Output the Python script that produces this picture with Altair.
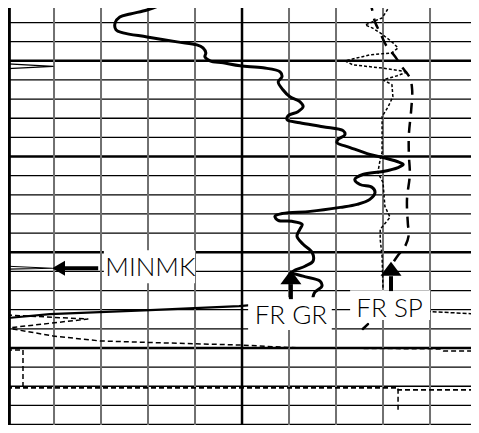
import altair as alt
import pandas as pd

# ---------------- grid (track units 0-100, depth in ft) ----------------
h_thin = [d for d in range(996, 1039, 2) if d % 10 != 0]
h_thick = [1000, 1010, 1020, 1030]
v_gray = [10, 20, 30, 40, 60, 70, 80, 90]
v_mid = [50]

# ---------------- curves ----------------
gr_x = [34.3, 32.6, 29.8, 26.2, 24.0, 23.0, 23.2, 24.7, 29.8, 36.2, 40.4, 41.7, 42.3, 42.1,
        43.2, 46.0, 49.6, 54.5, 58.1, 58.5, 57.7, 58.7, 60.2, 62.3, 63.0, 61.9, 59.8, 59.6,
        62.3, 67.2, 71.5, 71.9, 70.4, 70.2, 73.0, 77.2, 80.0, 83.0, 84.3, 83.2, 80.0, 75.7,
        74.0, 75.1, 77.7, 78.3, 77.2, 74.5, 70.9, 64.5, 58.7, 57.0, 57.7, 60.6, 62.8, 62.3,
        61.7, 63.0, 64.9, 65.1, 63.4, 60.6, 63.0, 66.6, 67.0, 65.5, 65.1]
gr_d = [993.65, 994.17, 994.69, 995.10, 995.42, 996.04, 996.77, 997.08, 997.5, 998.02, 998.33,
        998.65, 999.17, 999.58, 1000.0, 1000.21, 1000.52, 1000.73, 1001.15, 1001.67, 1002.19,
        1003.02, 1003.75, 1004.27, 1004.79, 1005.31, 1005.73, 1006.15, 1006.46, 1006.88,
        1007.29, 1007.71, 1008.23, 1008.54, 1009.06, 1009.79, 1010.10, 1010.52, 1010.83,
        1011.15, 1011.56, 1011.88, 1012.40, 1012.92, 1013.23, 1013.75, 1014.48, 1015.0,
        1015.31, 1015.73, 1015.94, 1016.25, 1016.67, 1016.77, 1017.08, 1017.60, 1018.33,
        1019.17, 1020.0, 1020.94, 1021.46, 1022.08, 1022.5, 1023.02, 1023.54, 1024.17, 1024.69]

sp_x = [81.9, 80.9, 79.8, 77.7, 76.2, 77.7, 79.4, 81.9, 83.2, 81.9, 77.2, 71.9, 73.6, 79.4,
        85.3, 83.0, 80.0, 81.9, 82.1, 81.1, 79.8, 79.8, 79.8, 79.8, 79.4, 78.9, 80.0, 80.4,
        81.5, 79.4, 79.4, 79.8, 80.0]
sp_d = [993.65, 994.69, 995.52, 995.94, 996.25, 996.56, 997.08, 998.02, 998.65, 999.17, 999.38,
        1000.0, 1000.42, 1000.73, 1001.15, 1001.56, 1001.98, 1002.5, 1003.75, 1004.79, 1005.83,
        1007.5, 1008.75, 1009.58, 1010.31, 1011.67, 1012.71, 1015.21, 1016.35, 1017.6, 1018.65,
        1020.42, 1023.85]

ld_x = [77.2, 77.7, 78.3, 79.4, 80.6, 82.6, 84.0, 85.7, 86.2, 86.0, 85.5, 85.5, 85.7, 85.1,
        85.3, 85.5, 84.7, 83.2, 81.9]
ld_d = [993.65, 994.69, 995.94, 997.08, 998.33, 999.58, 1000.63, 1001.77, 1003.02, 1005.10,
        1007.71, 1009.79, 1011.88, 1014.48, 1017.08, 1018.13, 1019.38, 1020.31, 1021.25]

floor_x = [0.0, 9.1, 30.4, 49.4, 57.0]
floor_d = [1026.88, 1026.46, 1026.04, 1025.63, 1025.3]

vd_x = [0.0, 17.2, 0.0, 9.8, 19.8, 34.0, 49.4, 62.3, 92.1, 92.8, 100.4]
vd_d = [1026.56, 1026.98, 1027.92, 1028.75, 1029.27, 1029.48, 1029.69, 1030.0, 1030.1, 1030.31, 1030.31]

spr_x = [88.0, 100.4]
spr_d = [1026.15, 1026.46]

bx1_x = [0.0, 3.4, 3.4]
bx1_d = [1030.21, 1030.21, 1034.17]
bx2_x = [0.0, 83.2, 83.2, 100.4]
bx2_d = [1034.17, 1034.17, 1034.38, 1034.38]
bx3_x = [83.2, 83.2]
bx3_d = [1034.27, 1036.56]

spike_x = [0.0, 9.8, 0.0]
spike_d = [1000.31, 1000.57, 1000.83]
mk_x = [0.0, 9.6, 0.0]
mk_d = [1021.46, 1021.67, 1021.77]
stroke_x = [76.8, 75.7]
stroke_d = [1027.5, 1028.02]

# ---------------- labels & arrows ----------------
labels = ["MINMK", "FR GR", "FR SP"]
label_x = [30.5, 60.4, 81.4]
label_d = [1022.5, 1027.5, 1026.77]
box_x1 = [20.6, 51.3, 73.0]
box_x2 = [40.0, 69.1, 90.0]
box_d1 = [1019.79, 1024.69, 1023.96]
box_d2 = [1023.23, 1028.13, 1027.08]

up_x = [60.4, 81.7]
up_d = [1022.6, 1021.72]
up_shaft_d1 = [1023.33, 1022.5]
up_shaft_d2 = [1024.9, 1024.06]
left_x = [10.96]
left_d = [1021.67]
left_shaft_x1 = [12.3]
left_shaft_x2 = [19.4]

XS = alt.Scale(domain=[0.21, 98.72], nice=False, zero=False)
YS = alt.Scale(domain=[994.48, 1038.05], reverse=True, nice=False, zero=False)


def X(f="x"):
    return alt.X(f"{f}:Q", scale=XS, axis=None)


def Y(f="d"):
    return alt.Y(f"{f}:Q", scale=YS, axis=None)


def hrules(ds, w):
    return alt.Chart(pd.DataFrame({"d": ds})).mark_rule(color="black", strokeWidth=w).encode(y=Y())


def vrules(xs, w, c):
    return alt.Chart(pd.DataFrame({"x": xs})).mark_rule(color=c, strokeWidth=w).encode(x=X())


def curve(xs, ds, **kw):
    df = pd.DataFrame({"x": xs, "d": ds, "i": list(range(len(xs)))})
    base = dict(color="black", strokeJoin="round")
    base.update(kw)
    return alt.Chart(df).mark_line(**base).encode(x=X(), y=Y(), order="i:Q")


layers = [
    hrules(h_thin, 1.3),
    hrules(h_thick, 2.5),
    vrules(v_gray, 2, "#707070"),
    vrules(v_mid, 2.5, "black"),
    alt.Chart(pd.DataFrame({"x": [0.5]})).mark_rule(color="black", strokeWidth=3).encode(x=X()),
    curve(spike_x, spike_d, strokeWidth=1.2),
    curve(mk_x, mk_d, strokeWidth=1.2),
    curve(sp_x, sp_d, strokeWidth=1.5, strokeDash=[3, 2]),
    curve(ld_x, ld_d, strokeWidth=2.5, strokeDash=[11, 8], interpolate="catmull-rom"),
    curve(gr_x, gr_d, strokeWidth=3, strokeCap="round", interpolate="catmull-rom"),
    curve(floor_x, floor_d, strokeWidth=2.2),
    curve(vd_x, vd_d, strokeWidth=1.5, strokeDash=[5, 3]),
    curve(spr_x, spr_d, strokeWidth=1.5, strokeDash=[4, 2]),
    curve(bx1_x, bx1_d, strokeWidth=1.5, strokeDash=[5, 3]),
    curve(bx2_x, bx2_d, strokeWidth=1.6, strokeDash=[5, 3]),
    curve(bx3_x, bx3_d, strokeWidth=1.5, strokeDash=[5, 3]),
]

lab = pd.DataFrame({"t": labels, "x": label_x, "d": label_d,
                    "x1": box_x1, "x2": box_x2, "d1": box_d1, "d2": box_d2})
layers.append(alt.Chart(lab).mark_rect(color="white").encode(
    x=X("x1"), x2="x2:Q", y=Y("d1"), y2="d2:Q"))
layers.append(curve(stroke_x, stroke_d, strokeWidth=2.5, strokeCap="round"))
layers.append(alt.Chart(lab).mark_text(align="center", baseline="alphabetic", fontSize=26,
                                       font="Lato", fontWeight=300, color="black").encode(
    x=X(), y=Y(), text="t:N"))

up = pd.DataFrame({"x": up_x, "d": up_d, "d1": up_shaft_d1, "d2": up_shaft_d2})
layers.append(alt.Chart(up).mark_rule(color="black", strokeWidth=4).encode(
    x=X(), y=Y("d1"), y2="d2:Q"))
layers.append(alt.Chart(up).mark_point(shape="M0,-0.67L1,0.67L-1,0.67Z", filled=True, size=441,
                                       color="black", opacity=1, strokeWidth=0).encode(x=X(), y=Y()))
lf = pd.DataFrame({"x": left_x, "d": left_d, "x1": left_shaft_x1, "x2": left_shaft_x2})
layers.append(alt.Chart(lf).mark_rule(color="black", strokeWidth=4).encode(
    x=X("x1"), x2="x2:Q", y=Y()))
layers.append(alt.Chart(lf).mark_point(shape="M-1,0L1,-1.15L1,1.15Z", filled=True, size=169,
                                       color="black", opacity=1, strokeWidth=0).encode(x=X(), y=Y()))

chart = alt.layer(*layers).properties(
    width=463, height=417, padding=0,
    autosize=alt.AutoSizeParams(type="none"), background="white"
).configure_view(stroke=None)

chart.save("out.html", embed_options={"renderer": "svg", "actions": False})
